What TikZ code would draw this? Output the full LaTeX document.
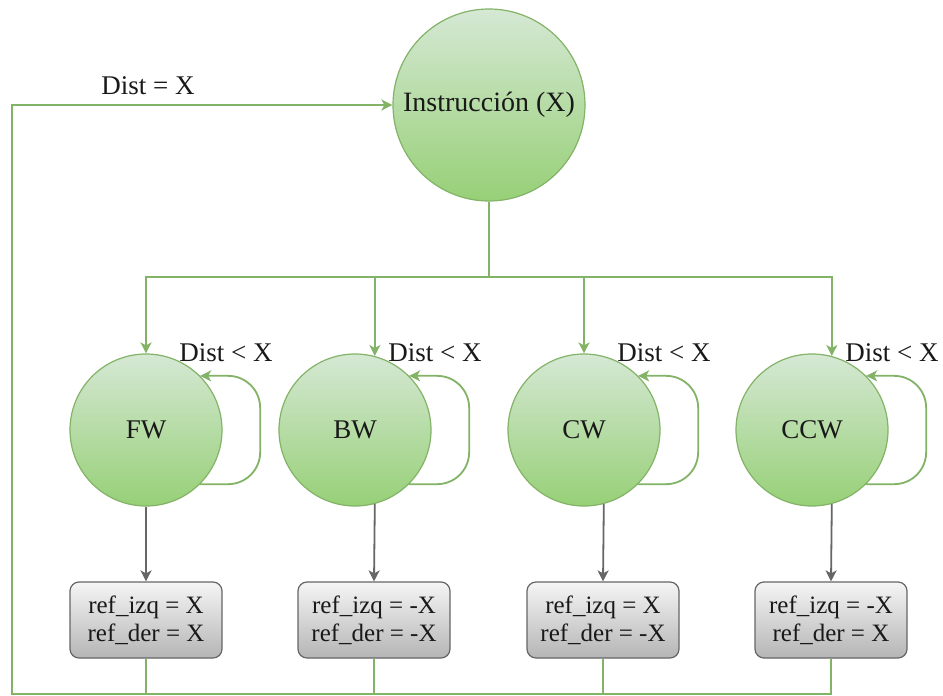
\documentclass[tikz,border=0pt]{standalone}
\usepackage{fontspec}
\setmainfont{Liberation Serif}
\usetikzlibrary{arrows.meta,calc}
\definecolor{gstroke}{HTML}{82B366}
\definecolor{gtop}{HTML}{D5E8D4}
\definecolor{gbot}{HTML}{97D077}
\definecolor{kstroke}{HTML}{666666}
\definecolor{ktop}{HTML}{F5F5F5}
\definecolor{kbot}{HTML}{B5B5B5}
\tikzset{
  state/.style={circle, draw=gstroke, line width=1.2pt, top color=gtop, bottom color=gbot,
    minimum size=152pt, inner sep=0pt, font=\fontsize{27}{30}\selectfont, text=black!90},
  bigstate/.style={state, minimum size=192pt, font=\fontsize{28}{30}\selectfont},
  refbox/.style={rectangle, rounded corners=9pt, draw=kstroke, line width=1.2pt, top color=ktop,
    bottom color=kbot, minimum width=152pt, minimum height=76pt, inner sep=0pt, align=center,
    font=\fontsize{25}{28}\selectfont, text=black!90},
  gline/.style={draw=gstroke, line width=1.8pt},
  garrow/.style={gline, -{Stealth[length=11pt,width=11pt,inset=3pt]}},
  karrow/.style={draw=kstroke, line width=1.8pt, -{Stealth[length=11pt,width=11pt,inset=3pt]}},
  lbl/.style={font=\fontsize{27}{30}\selectfont, text=black!90, inner sep=0pt},
}
\begin{document}
\begin{tikzpicture}[x=1pt,y=-1pt]
\useasboundingbox (0,0) rectangle (943,696);
\fill[white] (0,0) rectangle (943,696);

\node[bigstate] (instr) at (489,105) {Instrucción (X)};

\node[state] (fw)  at (146,430) {FW};
\node[state] (bw)  at (355,430) {BW};
\node[state] (cw)  at (584,430) {CW};
\node[state] (ccw) at (812,430) {CCW};

\node[refbox] (fwbox)  at (146,620) {ref\_izq = X\\ref\_der = X};
\node[refbox] (bwbox)  at (374,620) {ref\_izq = -X\\ref\_der = -X};
\node[refbox] (cwbox)  at (603,620) {ref\_izq = X\\ref\_der = -X};
\node[refbox] (ccwbox) at (831,620) {ref\_izq = -X\\ref\_der = X};

\coordinate (j) at (489,277);
\coordinate (bl) at (12,694);

% distribution from instruction
\draw[gline] (instr.south) -- (j);
\draw[garrow] (j) -| (fw.north);
\draw[garrow] (j) -| (bw.75.5);
\draw[garrow] (j) -| (cw.north);
\draw[garrow] (j) -| (ccw.75.5);

% self loops
\foreach \n in {fw,bw,cw,ccw}{
  \draw[garrow, rounded corners=32pt] (\n.-45) -| ([xshift=60pt]\n.45) -- (\n.45);
  \node[lbl] at ($(\n.center)+(80,-77)$) {Dist < X};
}

% state to refs
\draw[karrow] (fw.south) -- (fwbox.north);
\draw[karrow] (bw.-75.5) -- (bwbox.north);
\draw[karrow] (cw.-75.5) -- (cwbox.north);
\draw[karrow] (ccw.-75.5) -- (ccwbox.north);

% feedback
\draw[gline] (fwbox.south) -- (fwbox.south |- bl);
\draw[gline] (bwbox.south) -- (bwbox.south |- bl);
\draw[gline] (cwbox.south) -- (cwbox.south |- bl);
\draw[garrow] (ccwbox.south) |- (bl) |- (instr.west);
\node[lbl] at (148,86) {Dist = X};
\end{tikzpicture}
\end{document}
